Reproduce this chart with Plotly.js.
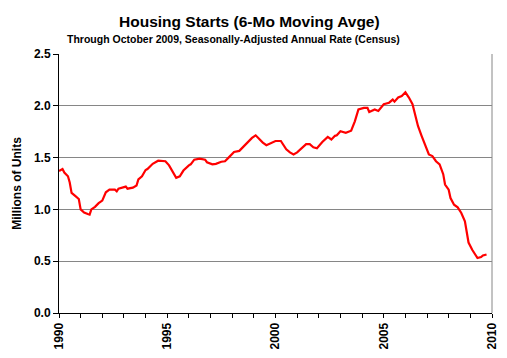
<!DOCTYPE html>
<html>
<head>
<meta charset="utf-8">
<script src="https://cdn.plot.ly/plotly-3.0.1.min.js"></script>
<style>html,body{margin:0;padding:0;background:#fff;}#chart{width:507px;height:358px;}</style>
</head>
<body>
<div id="chart"></div>
<script>
// Months (first of month) and 6-month moving average of housing starts, millions SAAR
const months = [
  "1990-01","1990-03","1990-04","1990-06","1990-07","1990-08","1990-10","1990-12",
  "1991-01","1991-03","1991-05","1991-06","1991-07","1991-09","1991-11",
  "1992-01","1992-03","1992-05","1992-08","1992-09","1992-10",
  "1993-02","1993-03","1993-06","1993-08","1993-09","1993-11",
  "1994-01","1994-02","1994-05","1994-08","1994-12",
  "1995-02","1995-04","1995-06","1995-08","1995-10",
  "1996-01","1996-02","1996-04","1996-07","1996-10","1996-11",
  "1997-02","1997-04","1997-07","1997-09","1997-11",
  "1998-02","1998-05","1998-07","1998-09","1998-12",
  "1999-02","1999-04","1999-06","1999-08","1999-10",
  "2000-01","2000-04","2000-05","2000-07","2000-09","2000-11",
  "2001-01","2001-03","2001-06","2001-08","2001-10","2001-12",
  "2002-03","2002-06","2002-08","2002-10","2002-11",
  "2003-01","2003-04","2003-07","2003-09","2003-11",
  "2004-02","2004-04","2004-05","2004-08","2004-10",
  "2005-01","2005-04","2005-06","2005-07","2005-09","2005-11",
  "2006-01","2006-03","2006-05","2006-06","2006-07","2006-08","2006-10","2006-12",
  "2007-02","2007-04","2007-06","2007-08","2007-10","2007-11",
  "2008-01","2008-02","2008-04","2008-06","2008-08","2008-10","2008-11","2008-12",
  "2009-02","2009-04","2009-05","2009-07","2009-08","2009-10"
];
const starts = [
  1.37,1.39,1.355,1.32,1.26,1.16,1.13,1.10,
  1.00,0.97,0.955,0.95,1.00,1.025,1.06,
  1.085,1.165,1.19,1.19,1.175,1.20,
  1.22,1.20,1.21,1.23,1.29,1.32,
  1.38,1.39,1.44,1.47,1.465,
  1.425,1.37,1.305,1.32,1.375,
  1.425,1.435,1.48,1.49,1.48,1.455,
  1.435,1.44,1.46,1.465,1.50,
  1.555,1.565,1.60,1.63,1.69,
  1.715,1.68,1.645,1.62,1.635,
  1.66,1.66,1.635,1.58,1.55,1.53,
  1.55,1.58,1.63,1.63,1.60,1.59,
  1.65,1.70,1.675,1.71,1.715,
  1.755,1.74,1.76,1.85,1.965,
  1.98,1.98,1.94,1.965,1.95,
  2.015,2.03,2.06,2.04,2.08,2.095,
  2.13,2.08,2.015,1.95,1.87,1.805,1.71,1.61,
  1.53,1.515,1.465,1.435,1.34,1.24,
  1.19,1.11,1.045,1.02,0.965,0.885,0.79,0.68,
  0.61,0.555,0.53,0.54,0.555,0.565
];
const yTicks = [0, 0.5, 1.0, 1.5, 2.0, 2.5];
const yTickText = ["0.0","0.5","1.0","1.5","2.0","2.5"];
const xTicks = ["1990-01-01","1995-01-01","2000-01-01","2005-01-01","2010-01-01"];
const xTickText = ["1990","1995","2000","2005","2010"];

const bold = {family: "Liberation Sans, Arial, sans-serif", size: 12, color: "#000", weight: 700};

const trace = {
  x: months, y: starts, type: "scatter", mode: "lines",
  line: {color: "#ff0000", width: 2.2}, hoverinfo: "skip"
};

const layout = {
  width: 507, height: 358,
  margin: {l: 59, r: 15, t: 54, b: 45},
  paper_bgcolor: "#fff", plot_bgcolor: "#fff",
  showlegend: false,
  font: bold,
  xaxis: {
    type: "date", range: ["1990-01-01","2010-01-01"],
    tickmode: "array", tickvals: xTicks, ticktext: xTickText,
    tickangle: -90, ticks: "outside", ticklen: 4, tickcolor: "#000", tickwidth: 1,
    showline: true, linecolor: "#000", linewidth: 1,
    showgrid: false, zeroline: false, tickfont: bold,
    minor: {dtick: "M12", tick0: "1990-01-01", ticks: "outside", ticklen: 4, tickcolor: "#000", tickwidth: 1, showgrid: false}
  },
  yaxis: {
    range: [0, 2.5], tickmode: "array", tickvals: yTicks, ticktext: yTickText,
    ticks: "outside", ticklen: 5, tickcolor: "#000", tickwidth: 1,
    showline: true, linecolor: "#000", linewidth: 1,
    showgrid: true, gridcolor: "#868686", gridwidth: 1, zeroline: false,
    tickfont: bold,
    title: {text: "Millions of Units", font: bold, standoff: 9}
  },
  shapes: [
    {type: "line", xref: "paper", yref: "paper", x0: 1, x1: 1, y0: 0, y1: 1, line: {color: "#868686", width: 1}}
  ],
  annotations: [
    {text: "Housing Starts (6-Mo Moving Avge)", xref: "paper", yref: "paper", x: (249-59)/433, y: 1 + (54-21)/259,
     xanchor: "center", yanchor: "middle", showarrow: false,
     font: {family: "Liberation Sans, Arial, sans-serif", size: 15.5, color: "#000", weight: 700}},
    {text: "Through October 2009, Seasonally-Adjusted Annual Rate (Census)", xref: "paper", yref: "paper", x: (233.5-59)/433, y: 1 + (54-39)/259,
     xanchor: "center", yanchor: "middle", showarrow: false,
     font: {family: "Liberation Sans, Arial, sans-serif", size: 10.5, color: "#000", weight: 700}}
  ]
};

Plotly.newPlot("chart", [trace], layout, {displayModeBar: false, staticPlot: true});
</script>
</body>
</html>
